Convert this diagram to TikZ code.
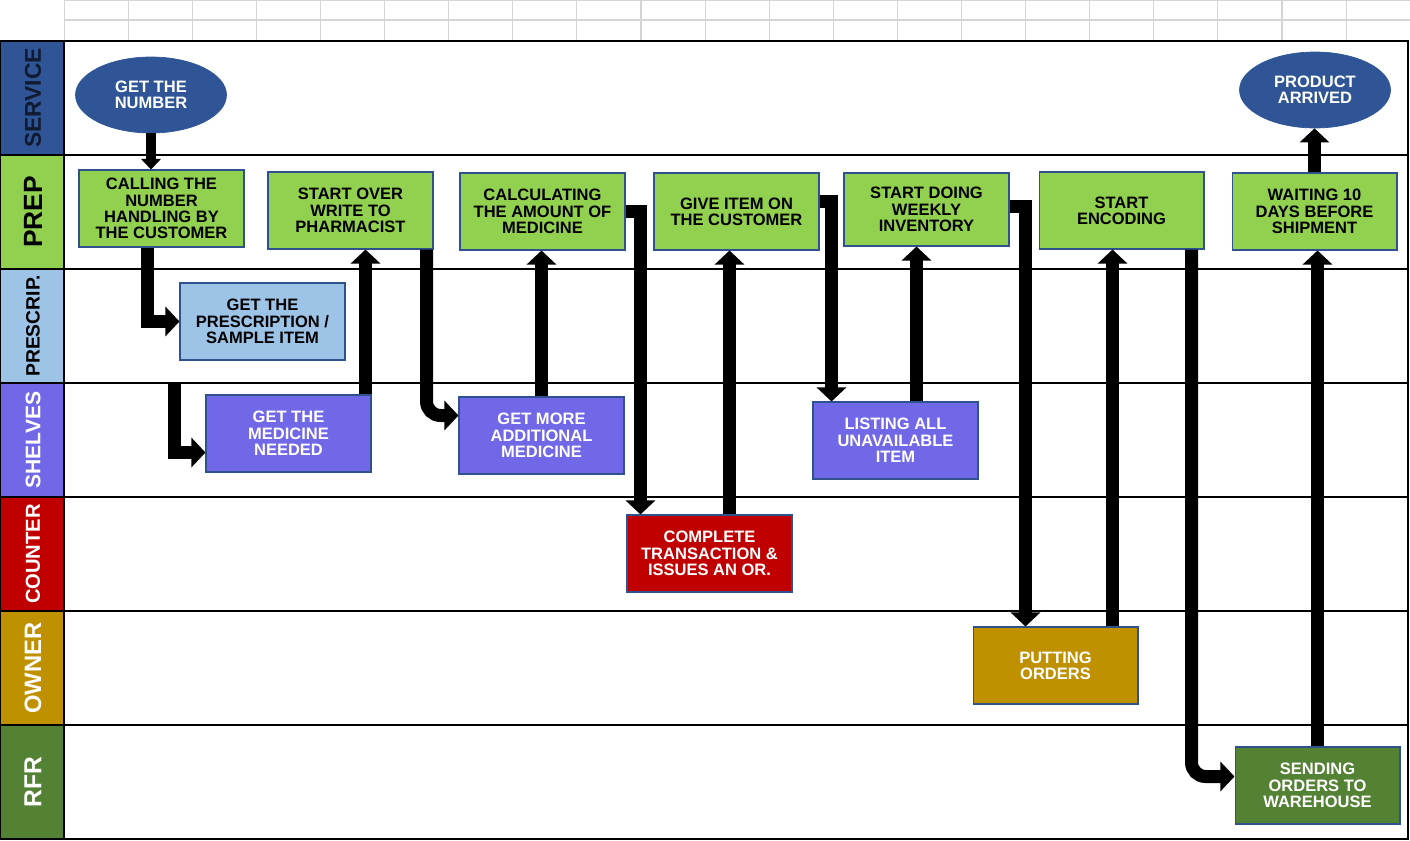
\documentclass[tikz,border=0pt]{standalone}
\usepackage{fontspec}
\setmainfont{Liberation Sans}
\usetikzlibrary{arrows.meta,calc,shapes.geometric}
\definecolor{servblue}{HTML}{2F5597}
\definecolor{servtext}{HTML}{101A30}
\definecolor{prepgreen}{HTML}{92D050}
\definecolor{rxblue}{HTML}{9DC3E6}
\definecolor{shelfpurple}{HTML}{7068E6}
\definecolor{counterred}{HTML}{C00000}
\definecolor{ownergold}{HTML}{BF9000}
\definecolor{rfrgreen}{HTML}{548235}
\definecolor{edgeblue}{HTML}{2F528F}
\definecolor{gridgrey}{HTML}{D4D4D4}
\tikzset{
  box/.style={draw=edgeblue,line width=0.6pt,minimum width=3.3cm,minimum height=1.54cm,
    inner sep=1pt,align=center,font=\bfseries\fontsize{9.4}{9.3}\selectfont},
  prepbox/.style={box,fill=prepgreen,text=black},
  rxbox/.style={box,fill=rxblue,text=black},
  shelfbox/.style={box,fill=shelfpurple,text=white},
  counterbox/.style={box,fill=counterred,text=white},
  ownerbox/.style={box,fill=ownergold,text=white},
  rfrbox/.style={box,fill=rfrgreen,text=white},
  oval/.style={ellipse,fill=servblue,draw=servblue,minimum width=3.02cm,minimum height=1.52cm,
    inner sep=0pt,text=white,align=center,font=\bfseries\fontsize{9.4}{9.3}\selectfont},
  flow/.style={line width=7.4pt,-{Triangle[width=16.5pt,length=8pt]}},
  smallflow/.style={line width=5.8pt,-{Triangle[width=11pt,length=6pt]}},
}
\begin{document}
\begin{tikzpicture}[x=0.02cm,y=-0.02cm]
  \useasboundingbox (0,0) rectangle (1410,841);
  % spreadsheet grid on top
  \foreach \i in {1,...,21} \draw[gridgrey,line width=0.6pt] (64.1*\i,0) -- (64.1*\i,41);
  \draw[gridgrey,line width=0.6pt] (64,0.4) -- (1410,0.4) (64,20) -- (1410,20);
  % lanes
  \foreach \i/\lab/\col/\tcol/\fs in {0/SERVICE/servblue/servtext/13,1/PREP/prepgreen/black/15,
      2/PRESCRIP./rxblue/black/11,3/SHELVES/shelfpurple/white/12,4/COUNTER/counterred/white/11.5,
      5/OWNER/ownergold/white/13.5,6/RFR/rfrgreen/white/14} {
    \fill[\col] (0,41+114*\i) rectangle (64,155+114*\i);
    \path (33,98+114*\i) node[rotate=90,text=\tcol,font=\bfseries\fontsize{\fs}{\fs}\selectfont](lane\i){\lab};
  }
  \foreach \y in {155,269,383,497,611,725} \draw[line width=0.7pt] (0,\y) -- (1408,\y);
  \draw[line width=1.3pt] (0,41) rectangle (1408,839);
  \draw[line width=1.3pt] (64,41) -- (64,839);
  % steps
  \path (151,95) node[oval](num){GET THE\\NUMBER};
  \path (1315,90) node[oval](arrived){PRODUCT\\ARRIVED};
  \path (161.5,208.5) node[prepbox](calling){CALLING THE\\NUMBER\\HANDLING BY\\THE CUSTOMER};
  \path (350.5,210.5) node[prepbox](startover){START OVER\\WRITE TO\\PHARMACIST};
  \path (542.5,211.5) node[prepbox](calc){CALCULATING\\THE AMOUNT OF\\MEDICINE};
  \path (736.5,211.5) node[prepbox](give){GIVE ITEM ON\\THE CUSTOMER};
  \path (926.5,209.5) node[prepbox,minimum height=1.46cm](weekly){START DOING\\WEEKLY\\INVENTORY};
  \path (1121.5,210.5) node[prepbox](encoding){START\\ENCODING};
  \path (1314.5,211.5) node[prepbox](waiting){WAITING 10\\DAYS BEFORE\\SHIPMENT};
  \path (262.5,321.5) node[rxbox](prescrip){GET THE\\PRESCRIPTION /\\SAMPLE ITEM};
  \path (288.5,433.5) node[shelfbox](medicine){GET THE\\MEDICINE\\NEEDED};
  \path (541.5,435.5) node[shelfbox](more){GET MORE\\ADDITIONAL\\MEDICINE};
  \path (895.5,440.5) node[shelfbox](listing){LISTING ALL\\UNAVAILABLE\\ITEM};
  \path (709.5,553.5) node[counterbox](complete){COMPLETE\\TRANSACTION \&\\ISSUES AN OR.};
  \path (1055.5,665.5) node[ownerbox](putting){PUTTING\\ORDERS};
  \path (1317.5,785.5) node[rfrbox](sending){SENDING\\ORDERS TO\\WAREHOUSE};
  \coordinate (shelfin) at (174,384);
  % connectors
  \draw[smallflow] (num.south) -- (num.south |- calling.north);
  \draw[flow] ($(calling.south)+(-14,0)$) |- (prescrip.west);
  \draw[flow] (shelfin) |- ($(medicine.west)+(0,19)$);
  \draw[flow] ($(medicine.north east)+(-6,0)$) coordinate (m1) -- (m1 |- startover.south);
  \draw[flow,rounded corners=8pt] ($(startover.south east)+(-7,0)$) |- ($(more.west)+(0,-20)$);
  \draw[flow] (more.north) -- (more.north |- calc.south);
  \draw[flow] (calc.east) -| ($(complete.north west)+(14,0)$);
  \draw[flow] ($(complete.north)+(20,0)$) coordinate (m2) -- (m2 |- give.south);
  \draw[flow] ($(give.east)+(0,-10)$) -| ($(listing.north west)+(19,0)$);
  \draw[flow] ($(listing.north)+(21,0)$) coordinate (m3) -- (m3 |- weekly.south);
  \draw[flow] ($(weekly.east)+(0,-3)$) -| ($(putting.north west)+(53,0)$);
  \draw[flow] ($(putting.north east)+(-26,0)$) coordinate (m4) -- (m4 |- encoding.south);
  \draw[flow,rounded corners=8pt] ($(encoding.south east)+(-13,0)$) |- ($(sending.west)+(0,-9)$);
  \draw[flow] (sending.north) -- (sending.north |- waiting.south);
  \draw[flow] (waiting.north) -- (waiting.north |- arrived.south);
\end{tikzpicture}
\end{document}
